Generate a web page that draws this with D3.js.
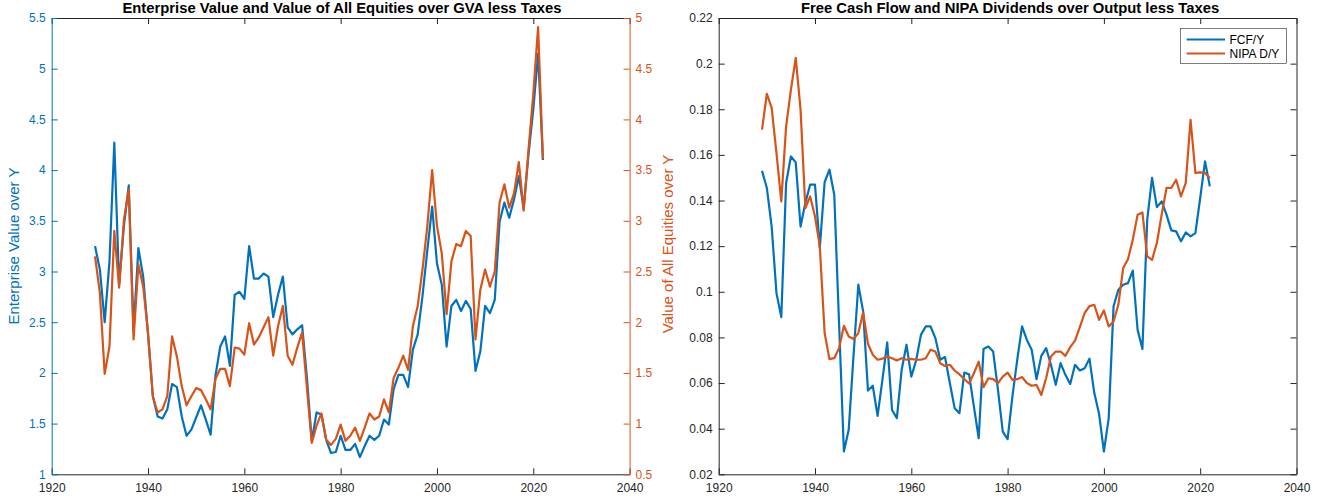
<!DOCTYPE html>
<html><head><meta charset="utf-8">
<script src="https://cdn.jsdelivr.net/npm/d3@7"></script>
<style>body{margin:0;background:#fff}svg{display:block}text{font-family:"Liberation Sans",Arial,Helvetica,sans-serif}</style>
</head><body><svg id="c" width="1325" height="500"></svg>
<script>
const years = [
1929,1930,1931,1932,1933,1934,1935,1936,1937,1938,
1939,1940,1941,1942,1943,1944,1945,1946,1947,1948,
1949,1950,1951,1952,1953,1954,1955,1956,1957,1958,
1959,1960,1961,1962,1963,1964,1965,1966,1967,1968,
1969,1970,1971,1972,1973,1974,1975,1976,1977,1978,
1979,1980,1981,1982,1983,1984,1985,1986,1987,1988,
1989,1990,1991,1992,1993,1994,1995,1996,1997,1998,
1999,2000,2001,2002,2003,2004,2005,2006,2007,2008,
2009,2010,2011,2012,2013,2014,2015,2016,2017,2018,
2019,2020,2021,2022];
const evY = [
3.25,3.02,2.50,3.10,4.27,2.87,3.45,3.85,2.42,3.23,
2.95,2.38,1.77,1.57,1.55,1.64,1.89,1.86,1.57,1.38,
1.44,1.56,1.68,1.54,1.39,1.97,2.26,2.36,2.07,2.77,
2.80,2.73,3.25,2.93,2.93,2.98,2.95,2.55,2.77,2.95,
2.45,2.38,2.43,2.47,1.95,1.33,1.61,1.59,1.34,1.21,
1.22,1.38,1.24,1.24,1.30,1.17,1.28,1.38,1.34,1.38,
1.54,1.49,1.84,1.98,1.98,1.86,2.23,2.38,2.76,3.21,
3.64,3.08,2.87,2.26,2.66,2.72,2.61,2.71,2.63,2.02,
2.21,2.66,2.59,2.72,3.49,3.68,3.53,3.71,3.94,3.62,
4.15,4.60,5.15,4.10];
const equityY = [
2.65,2.29,1.49,1.76,2.90,2.34,3.01,3.31,1.83,2.57,
2.35,1.90,1.27,1.11,1.14,1.27,1.86,1.66,1.37,1.18,
1.27,1.35,1.33,1.24,1.14,1.44,1.54,1.54,1.37,1.75,
1.74,1.68,1.99,1.78,1.85,1.95,2.05,1.67,1.96,2.16,
1.67,1.58,1.75,1.90,1.35,0.81,0.98,1.10,0.84,0.79,
0.85,0.99,0.83,0.88,0.96,0.83,0.96,1.10,1.04,1.07,
1.24,1.11,1.45,1.55,1.67,1.53,1.96,2.16,2.52,2.95,
3.50,2.95,2.68,2.08,2.60,2.77,2.75,2.90,2.85,1.83,
2.32,2.52,2.35,2.50,3.18,3.36,3.13,3.27,3.58,3.10,
3.70,4.25,4.91,3.61];
const fcfY = [
0.1530,0.1455,0.1286,0.0994,0.0889,0.1477,0.1593,0.1567,0.1286,0.1390,
0.1470,0.1470,0.1192,0.1480,0.1535,0.1425,0.0860,0.0300,0.0395,0.0720,
0.1031,0.0914,0.0567,0.0588,0.0456,0.0614,0.0778,0.0482,0.0446,0.0658,
0.0768,0.0628,0.0699,0.0811,0.0848,0.0848,0.0797,0.0702,0.0714,0.0600,
0.0490,0.0468,0.0646,0.0638,0.0497,0.0358,0.0749,0.0760,0.0738,0.0570,
0.0387,0.0354,0.0541,0.0702,0.0848,0.0789,0.0746,0.0617,0.0719,0.0753,
0.0680,0.0592,0.0687,0.0636,0.0596,0.0680,0.0655,0.0665,0.0707,0.0557,
0.0464,0.0300,0.0446,0.0936,0.1009,0.1031,0.1038,0.1093,0.0833,0.0749,
0.1316,0.1499,0.1371,0.1396,0.1338,0.1269,0.1265,0.1221,0.1260,0.1243,
0.1257,0.1411,0.1572,0.1462];
const nipaY = [
0.1711,0.1868,0.1806,0.1608,0.1396,0.1725,0.1886,0.2025,0.1798,0.1367,
0.1418,0.1330,0.1199,0.0819,0.0705,0.0709,0.0753,0.0851,0.0804,0.0793,
0.0819,0.0909,0.0772,0.0724,0.0702,0.0707,0.0716,0.0709,0.0699,0.0709,
0.0702,0.0706,0.0702,0.0702,0.0709,0.0746,0.0738,0.0687,0.0675,0.0680,
0.0655,0.0638,0.0618,0.0598,0.0643,0.0694,0.0582,0.0621,0.0617,0.0600,
0.0628,0.0646,0.0614,0.0617,0.0626,0.0600,0.0588,0.0592,0.0548,0.0621,
0.0716,0.0738,0.0738,0.0719,0.0757,0.0786,0.0845,0.0907,0.0937,0.0943,
0.0877,0.0918,0.0848,0.0870,0.0943,0.1104,0.1143,0.1228,0.1338,0.1348,
0.1155,0.1140,0.1214,0.1338,0.1455,0.1455,0.1491,0.1418,0.1477,0.1754,
0.1521,0.1523,0.1521,0.1499];
const xTicks = [1920,1940,1960,1980,2000,2020,2040];
const evTicks = [1,1.5,2,2.5,3,3.5,4,4.5,5,5.5];
const eqTicks = [0.5,1,1.5,2,2.5,3,3.5,4,4.5,5];
const divTicks = [0.02,0.04,0.06,0.08,0.1,0.12,0.14,0.16,0.18,0.2,0.22];
const titles = ["Enterprise Value and Value of All Equities over GVA less Taxes","Free Cash Flow and NIPA Dividends over Output less Taxes"];
const seriesNames = ["FCF/Y","NIPA D/Y"];

const BLUE="#0072BD", ORANGE="#D95319", AX="#262626";
const svg=d3.select("#c");
const yTop=18, yBot=474.3, TL=6;
const fmt=v=>String(+v.toFixed(2));

function xAxes(g,x){
  const b=g.append("g").attr("transform",`translate(0,${yBot})`)
    .call(d3.axisBottom(x).tickValues(xTicks).tickFormat(d3.format("d")).tickSizeInner(-TL).tickSizeOuter(0).tickPadding(9));
  b.select(".domain").attr("stroke",AX);
  b.selectAll(".tick line").attr("stroke",AX);
  b.selectAll("text").attr("fill",AX).attr("font-size",12);
  const t=g.append("g").attr("transform",`translate(0,${yTop})`)
    .call(d3.axisTop(x).tickValues(xTicks).tickFormat("").tickSizeInner(-TL).tickSizeOuter(0));
  t.select(".domain").attr("stroke",AX);
  t.selectAll(".tick line").attr("stroke",AX);
}
function yAxis(g,y,ticks,xpos,left,color){
  const a=(left?d3.axisLeft(y):d3.axisRight(y)).tickValues(ticks).tickFormat(fmt).tickSizeInner(-TL).tickSizeOuter(0).tickPadding(6);
  const n=g.append("g").attr("transform",`translate(${xpos},0)`).call(a);
  n.select(".domain").attr("stroke",color);
  n.selectAll(".tick line").attr("stroke",color);
  n.selectAll("text").attr("fill",color).attr("font-size",12);
  return n;
}
function drawLine(g,x,y,vals,color){
  g.append("path").datum(vals.map((v,i)=>[years[i],v]))
   .attr("fill","none").attr("stroke",color).attr("stroke-width",2.2).attr("stroke-linejoin","round")
   .attr("d",d3.line().x(d=>x(d[0])).y(d=>y(d[1])));
}

// Left panel
{
  const x0=51.7,x1=629.6;
  const x=d3.scaleLinear().domain([1920,2040]).range([x0,x1]);
  const yL=d3.scaleLinear().domain([1,5.5]).range([yBot,yTop]);
  const yR=d3.scaleLinear().domain([0.5,5]).range([yBot,yTop]);
  const g=svg.append("g");
  drawLine(g,x,yL,evY,BLUE);
  drawLine(g,x,yR,equityY,ORANGE);
  xAxes(g,x);
  yAxis(g,yL,evTicks,x0,true,BLUE);
  yAxis(g,yR,eqTicks,x1,false,ORANGE);
  g.append("text").attr("x",342).attr("y",13).attr("text-anchor","middle").attr("font-weight","bold").attr("font-size",14.8).attr("fill","#000").text(titles[0]);
  g.append("text").attr("transform",`translate(19,246) rotate(-90)`).attr("text-anchor","middle").attr("font-size",15).attr("fill",BLUE).text("Enterprise Value over Y");
  g.append("text").attr("transform",`translate(673,244) rotate(-90)`).attr("text-anchor","middle").attr("font-size",15).attr("fill",ORANGE).text("Value of All Equities over Y");
}
// Right panel
{
  const x0=718.7,x1=1296.5;
  const x=d3.scaleLinear().domain([1920,2040]).range([x0,x1]);
  const y=d3.scaleLinear().domain([0.02,0.22]).range([yBot,yTop]);
  const g=svg.append("g");
  drawLine(g,x,y,fcfY,BLUE);
  drawLine(g,x,y,nipaY,ORANGE);
  xAxes(g,x);
  yAxis(g,y,divTicks,x0,true,AX);
  const r=g.append("g").attr("transform",`translate(${x1},0)`)
    .call(d3.axisRight(y).tickValues(divTicks).tickFormat("").tickSizeInner(-TL).tickSizeOuter(0));
  r.select(".domain").attr("stroke",AX); r.selectAll(".tick line").attr("stroke",AX);
  g.append("text").attr("x",1010).attr("y",13).attr("text-anchor","middle").attr("font-weight","bold").attr("font-size",14.8).attr("fill","#000").text(titles[1]);
  const lg=g.append("g");
  lg.append("rect").attr("x",1180.7).attr("y",28.3).attr("width",106).attr("height",35).attr("fill","#fff").attr("stroke",AX).attr("stroke-width",0.6);
  [BLUE,ORANGE].forEach((c,i)=>{
    const yy=39.5+i*14;
    lg.append("line").attr("x1",1186.7).attr("x2",1225).attr("y1",yy).attr("y2",yy).attr("stroke",c).attr("stroke-width",2.2);
    lg.append("text").attr("x",1229.5).attr("y",yy+4).attr("font-size",12).attr("fill","#000").text(seriesNames[i]);
  });
}
</script></body></html>
